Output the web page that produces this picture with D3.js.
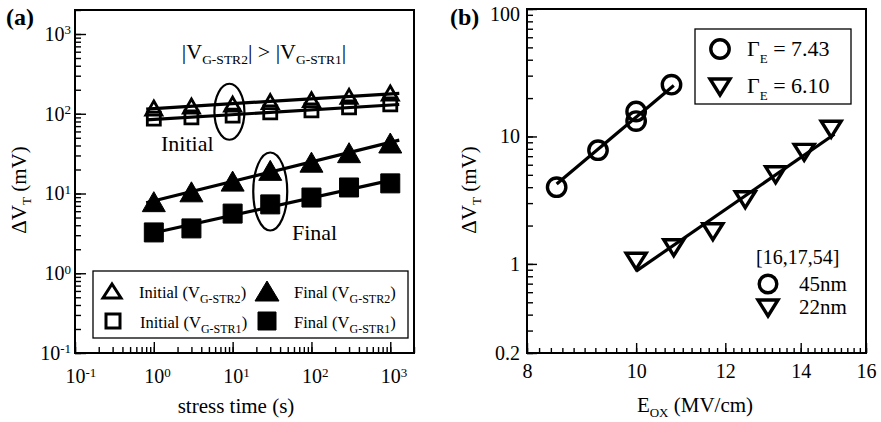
<!DOCTYPE html>
<html>
<head>
<meta charset="utf-8">
<script src="https://cdn.jsdelivr.net/npm/d3@7"></script>
<style>
body { margin: 0; background: #fff; }
svg text { font-family: "Liberation Serif", "DejaVu Serif", "Times New Roman", serif !important; fill: #000; }
</style>
</head>
<body>
<svg id="chart"></svg>
<script>
// ---------- panel (a) data ----------
var stressTime  = [1, 3, 10, 30, 100, 300, 1000];
var initialStr2 = [118, 125, 132, 142, 150, 165, 182];
var initialStr1 = [87, 90, 95, 104, 110, 120, 131];
var finalStr2   = [7.9, 10.5, 14.3, 19.5, 24.7, 32.5, 43];
var finalStr1   = [3.25, 3.65, 5.6, 7.3, 8.9, 11.9, 13.4];
var ticksA      = [0.1, 1, 10, 100, 1000];
var tickExpA    = ["-1", "0", "1", "2", "3"];

// ---------- panel (b) data ----------
var eox45   = [8.5, 9.25, 10, 10, 10.75];
var dvt45   = [4.0, 7.8, 13.2, 15.7, 25.5];
var eox22   = [10, 10.8, 11.7, 12.5, 13.3, 14.1, 14.9];
var dvt22   = [1.05, 1.34, 1.79, 3.19, 5.0, 7.5, 11.4];
var gammaE  = ["7.43", "6.10"];
var nodes   = ["45nm", "22nm"];
var refText = "[16,17,54]";
var xTicksB = [8, 10, 12, 14, 16];
var yTicksB = [0.2, 1, 10, 100];

var w = 881, h = 422;
var svg = d3.select("#chart").attr("width", w).attr("height", h)
    .attr("font-family", "'Liberation Serif', 'DejaVu Serif', serif");

// text with alternating normal / subscript parts
function richText(sel, parts, subSize, shift) {
    parts.forEach(function(p, i) {
        var ts = sel.append("tspan").text(p);
        if (i % 2 === 1) ts.attr("font-size", subSize).attr("dy", shift);
        else if (i > 0) ts.attr("dy", -shift);
    });
    return sel;
}

// triangle path centred on its bounding box
function tri(wd, ht, down) {
    var s = down ? -1 : 1;
    return "M0," + (-s * ht / 2) + "L" + (wd / 2) + "," + (s * ht / 2) +
           "L" + (-wd / 2) + "," + (s * ht / 2) + "Z";
}
function sq(side) {
    var a = side / 2;
    return "M" + -a + "," + -a + "H" + a + "V" + a + "H" + -a + "Z";
}

// least squares in log-log space (free slope or fixed slope)
function fitLine(xs, ys, x0, x1, slope) {
    var lx = xs.map(Math.log10), ly = ys.map(Math.log10);
    var mx = d3.mean(lx), my = d3.mean(ly);
    var b = slope !== undefined ? slope :
        d3.sum(lx, function(v, i) { return (v - mx) * (ly[i] - my); }) /
        d3.sum(lx, function(v) { return (v - mx) * (v - mx); });
    var a = my - b * mx;
    return [x0, x1].map(function(x) { return [x, Math.pow(10, a + b * Math.log10(x))]; });
}

// ==================== (a) ====================
var xA = d3.scaleLog().domain([0.1, 2000]).range([75, 414]);
var yA = d3.scaleLog().domain([0.1, 2000]).range([353, 10]);
var ga = svg.append("g");

// minor ticks
ga.append("g").attr("transform", "translate(0,353)")
    .call(d3.axisBottom(xA).tickValues(xA.ticks()).tickSize(-6).tickFormat(""));
ga.append("g").attr("transform", "translate(75,0)")
    .call(d3.axisLeft(yA).tickValues(yA.ticks()).tickSize(-6).tickFormat(""));

// major ticks + labels
var axXA = ga.append("g").attr("transform", "translate(0,353)")
    .call(d3.axisBottom(xA).tickValues(ticksA).tickSize(-11).tickPadding(16));
var axYA = ga.append("g").attr("transform", "translate(75,0)")
    .call(d3.axisLeft(yA).tickValues(ticksA).tickSize(-11).tickPadding(4));

[axXA, axYA].forEach(function(ax, k) {
    ax.selectAll(".tick text").each(function(d, i) {
        var t = d3.select(this).text(null).attr("font-size", 20);
        if (k === 0) t.attr("text-anchor", "start").attr("x", -10);
        t.append("tspan").text("10");
        t.append("tspan").text(tickExpA[i]).attr("font-size", 13).attr("dy", "-0.5em");
    });
});

ga.selectAll(".domain").remove();
ga.selectAll(".tick line").attr("stroke-width", 1.4);

ga.append("rect").attr("x", 75).attr("y", 10).attr("width", 339).attr("height", 343)
    .attr("fill", "none").attr("stroke", "#000").attr("stroke-width", 2);

var lineA = d3.line()
    .x(function(d) { return xA(d[0]); })
    .y(function(d) { return yA(d[1]); });

var seriesA = [
    { y: initialStr2, path: tri(16, 14), fill: "none" },
    { y: initialStr1, path: sq(13), fill: "none" },
    { y: finalStr2, path: tri(23, 20), fill: "#000" },
    { y: finalStr1, path: sq(19), fill: "#000" }
];

seriesA.forEach(function(s) {
    ga.append("path")
        .datum(fitLine(stressTime, s.y, 0.8, 1300))
        .attr("fill", "none")
        .attr("stroke", "#000")
        .attr("stroke-width", 3.2)
        .attr("d", lineA);
});

seriesA.forEach(function(s) {
    ga.append("g").selectAll("path")
        .data(stressTime)
        .enter().append("path")
        .attr("transform", function(d, i) { return "translate(" + xA(d) + "," + yA(s.y[i]) + ")"; })
        .attr("d", s.path)
        .attr("fill", s.fill)
        .attr("stroke", "#000")
        .attr("stroke-width", s.fill === "none" ? 2.8 : 1)
        .attr("stroke-linejoin", "miter");
});

// annotation ellipses
ga.append("ellipse").attr("cx", xA(9.1)).attr("cy", yA(106))
    .attr("rx", 15).attr("ry", 28)
    .attr("fill", "none").attr("stroke", "#000").attr("stroke-width", 2.2);
ga.append("ellipse").attr("cx", xA(30)).attr("cy", yA(10.6))
    .attr("rx", 17).attr("ry", 39)
    .attr("fill", "none").attr("stroke", "#000").attr("stroke-width", 2.2);

richText(ga.append("text").attr("x", 264).attr("y", 59)
    .attr("text-anchor", "middle").attr("font-size", 22),
    ["|V", "G-STR2", "| > |V", "G-STR1", "|"], 13.5, 5);

ga.append("text").attr("x", 161).attr("y", 151).attr("font-size", 22).text("Initial");
ga.append("text").attr("x", 292).attr("y", 240).attr("font-size", 22).text("Final");

// legend (a)
ga.append("rect").attr("x", 93).attr("y", 271).attr("width", 315).attr("height", 67)
    .attr("fill", "#fff").attr("stroke", "#000").attr("stroke-width", 1.3);

var legA = [
    { cx: 112, cy: 291, path: tri(18, 14), fill: "none", label: ["Initial (V", "G-STR2", ")"] },
    { cx: 113, cy: 321, path: sq(14), fill: "none", label: ["Initial (V", "G-STR1", ")"] },
    { cx: 267, cy: 291, path: tri(24, 20), fill: "#000", label: ["Final (V", "G-STR2", ")"] },
    { cx: 267, cy: 321, path: sq(18), fill: "#000", label: ["Final (V", "G-STR1", ")"] }
];
legA.forEach(function(l) {
    ga.append("path")
        .attr("transform", "translate(" + l.cx + "," + l.cy + ")")
        .attr("d", l.path)
        .attr("fill", l.fill)
        .attr("stroke", "#000")
        .attr("stroke-width", l.fill === "none" ? 3 : 1);
    richText(ga.append("text").attr("x", l.cx + 27).attr("y", l.cy + 7)
        .attr("font-size", 16.5), l.label, 12, 4.5);
});

ga.append("text").attr("x", 6).attr("y", 25)
    .attr("font-size", 24).attr("font-weight", "bold").text("(a)");

richText(ga.append("text")
    .attr("transform", "translate(26,190) rotate(-90)")
    .attr("text-anchor", "middle").attr("font-size", 21),
    ["\u0394V", "T", " (mV)"], 13, 5);

ga.append("text").attr("x", 236).attr("y", 413)
    .attr("text-anchor", "middle").attr("font-size", 21).text("stress time (s)");

// ==================== (b) ====================
var xB = d3.scaleLog().domain([8, 16]).range([527, 866]);
var yB = d3.scaleLog().domain([0.2, 100]).range([353, 9]);
var gb = svg.append("g");

gb.append("g").attr("transform", "translate(0,353)")
    .call(d3.axisBottom(xB).tickValues(xB.ticks(40)).tickSize(-5).tickFormat(""));
gb.append("g").attr("transform", "translate(527,0)")
    .call(d3.axisLeft(yB).tickValues(yB.ticks()).tickSize(-6).tickFormat(""));

gb.append("g").attr("transform", "translate(0,353)")
    .call(d3.axisBottom(xB).tickValues(xTicksB).tickSize(-10).tickPadding(11)
        .tickFormat(d3.format("d")));
var axYB = gb.append("g").attr("transform", "translate(527,0)")
    .call(d3.axisLeft(yB).tickValues(yTicksB).tickSize(-10).tickPadding(7)
        .tickFormat(function(d) { return String(d); }));
axYB.selectAll(".tick text").filter(function(d) { return d === 100; }).attr("dy", "0.55em");

gb.selectAll(".domain").remove();
gb.selectAll(".tick line").attr("stroke-width", 1.4);
gb.selectAll(".tick text").attr("font-size", 20);

gb.append("rect").attr("x", 527).attr("y", 9).attr("width", 339).attr("height", 344)
    .attr("fill", "none").attr("stroke", "#000").attr("stroke-width", 2);

var lineB = d3.line()
    .x(function(d) { return xB(d[0]); })
    .y(function(d) { return yB(d[1]); });

gb.append("path")
    .datum(fitLine(eox45, dvt45, 8.5, 10.8, +gammaE[0]))
    .attr("fill", "none").attr("stroke", "#000").attr("stroke-width", 3.2)
    .attr("d", lineB);
gb.append("path")
    .datum(fitLine(eox22, dvt22, 10, 15, +gammaE[1]))
    .attr("fill", "none").attr("stroke", "#000").attr("stroke-width", 3.2)
    .attr("d", lineB);

gb.append("g").selectAll("circle")
    .data(eox45)
    .enter().append("circle")
    .attr("cx", function(d) { return xB(d); })
    .attr("cy", function(d, i) { return yB(dvt45[i]); })
    .attr("r", 9.2)
    .attr("fill", "none").attr("stroke", "#000").attr("stroke-width", 3.4);

gb.append("g").selectAll("path")
    .data(eox22)
    .enter().append("path")
    .attr("transform", function(d, i) { return "translate(" + xB(d) + "," + yB(dvt22[i]) + ")"; })
    .attr("d", tri(20, 16, true))
    .attr("fill", "none").attr("stroke", "#000").attr("stroke-width", 3.4);

// legend box (b)
gb.append("rect").attr("x", 695).attr("y", 29).attr("width", 156).attr("height", 75)
    .attr("fill", "#fff").attr("stroke", "#000").attr("stroke-width", 1.3);
gb.append("circle").attr("cx", 720).attr("cy", 49).attr("r", 9.2)
    .attr("fill", "none").attr("stroke", "#000").attr("stroke-width", 3.4);
gb.append("path").attr("transform", "translate(720,87)").attr("d", tri(20, 16, true))
    .attr("fill", "none").attr("stroke", "#000").attr("stroke-width", 3.4);
gammaE.forEach(function(g, i) {
    richText(gb.append("text").attr("x", 747).attr("y", 56 + i * 37).attr("font-size", 22),
        ["\u0393", "E", " = " + g], 13, 7);
});

// reference legend
gb.append("text").attr("x", 756).attr("y", 264).attr("font-size", 20).text(refText);
gb.append("circle").attr("cx", 768).attr("cy", 284).attr("r", 8.8)
    .attr("fill", "none").attr("stroke", "#000").attr("stroke-width", 3.4);
gb.append("path").attr("transform", "translate(768,308)").attr("d", tri(20, 16, true))
    .attr("fill", "none").attr("stroke", "#000").attr("stroke-width", 3.4);
nodes.forEach(function(n, i) {
    gb.append("text").attr("x", 799).attr("y", 291 + i * 23).attr("font-size", 21).text(n);
});

gb.append("text").attr("x", 450).attr("y", 25)
    .attr("font-size", 24).attr("font-weight", "bold").text("(b)");

richText(gb.append("text")
    .attr("transform", "translate(476,190) rotate(-90)")
    .attr("text-anchor", "middle").attr("font-size", 21),
    ["\u0394V", "T", " (mV)"], 13, 5);

richText(gb.append("text").attr("x", 695).attr("y", 412)
    .attr("text-anchor", "middle").attr("font-size", 21),
    ["E", "OX", " (MV/cm)"], 13, 5);
</script>
</body>
</html>
